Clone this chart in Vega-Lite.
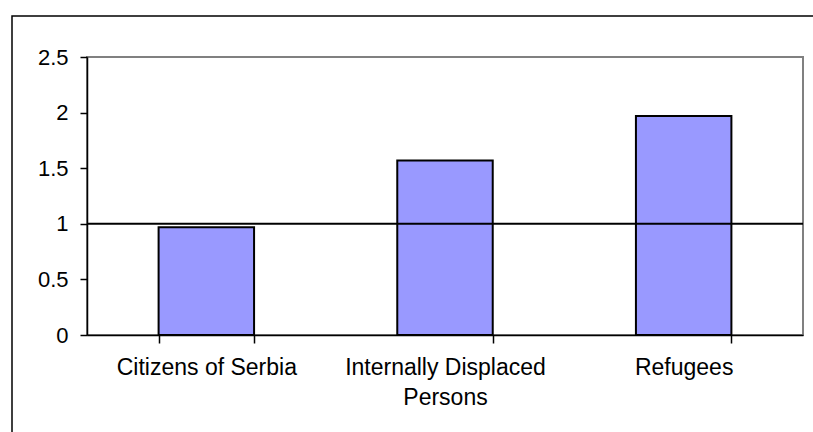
{
  "$schema": "https://vega.github.io/schema/vega-lite/v6.json",
  "width": 716,
  "height": 278,
  "autosize": {"type": "none"},
  "padding": {"left": 87, "top": 57, "right": 10, "bottom": 97},
  "background": "white",
  "config": {
    "view": {"stroke": "#808080", "strokeWidth": 2},
    "font": "Liberation Sans"
  },
  "layer": [
    {
      "data": {"values": [{"x0": 12, "x1": 830, "y0": 16, "y1": 450}]},
      "mark": {"type": "rect", "filled": false, "stroke": "black", "strokeWidth": 1.5},
      "encoding": {
        "x": {"field": "x0", "type": "quantitative", "scale": {"domain": [87, 803], "nice": false, "zero": false}, "axis": null},
        "x2": {"field": "x1"},
        "y": {"field": "y0", "type": "quantitative", "scale": {"domain": [57, 335], "reverse": true, "nice": false, "zero": false}, "axis": null},
        "y2": {"field": "y1"}
      }
    },
    {
      "layer": [
        {
          "data": {"values": [
            {"group": "Citizens of Serbia", "value": 0.97},
            {"group": "Internally Displaced Persons", "value": 1.57},
            {"group": "Refugees", "value": 1.97}
          ]},
          "mark": {"type": "bar", "fill": "#9999FF", "stroke": "black", "strokeWidth": 2},
          "encoding": {
            "x": {
              "field": "group", "type": "nominal", "sort": null,
              "scale": {"paddingInner": 0.6, "paddingOuter": 0.3},
              "axis": {
                "title": null, "labelAngle": 0, "tickBand": "extent",
                "labelFontSize": 23, "labelColor": "black", "tickColor": "black",
                "tickSize": 8, "domainColor": "black", "domainWidth": 1.5, "tickWidth": 1.5,
                "labelPadding": 13, "labelLineHeight": 30, "labelLimit": 0,
                "labelExpr": "datum.label == 'Internally Displaced Persons' ? ['Internally Displaced', 'Persons'] : datum.label"
              }
            },
            "y": {
              "field": "value", "type": "quantitative",
              "scale": {"domain": [0, 2.5], "nice": false},
              "axis": {
                "title": null, "values": [0, 0.5, 1, 1.5, 2, 2.5], "format": ".2~f",
                "grid": false, "tickSize": 7, "labelPadding": 12, "labelFontSize": 22,
                "labelColor": "black", "tickColor": "black", "domainColor": "black",
                "domainWidth": 1.5, "tickWidth": 1.5
              }
            }
          }
        },
        {
          "data": {"values": [{"ref": 1}]},
          "mark": {"type": "rule", "color": "black", "strokeWidth": 2},
          "encoding": {
            "y": {"field": "ref", "type": "quantitative"}
          }
        }
      ]
    }
  ],
  "resolve": {"scale": {"x": "independent", "y": "independent"}}
}
